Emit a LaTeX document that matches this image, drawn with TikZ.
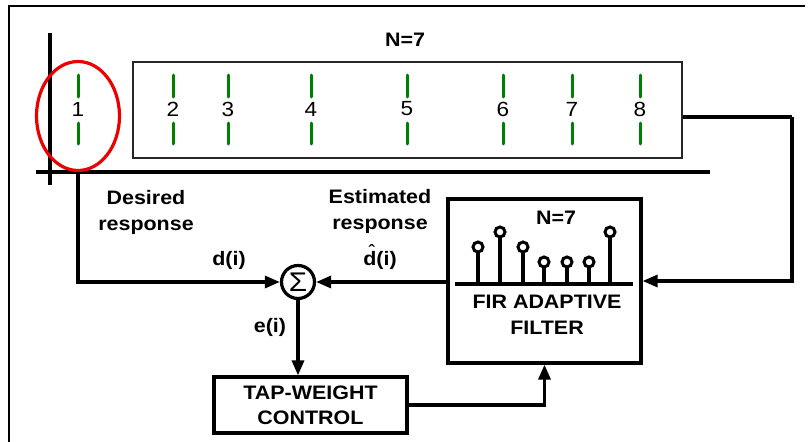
\documentclass[tikz,border=0pt]{standalone}
\usepackage{fontspec}
\setmainfont{Liberation Sans}[FakeStretch=1.1]
\usetikzlibrary{arrows.meta}
\definecolor{tickgreen}{RGB}{0,128,0}
\definecolor{ringred}{RGB}{235,0,0}
\begin{document}
\begin{tikzpicture}[x=1pt,y=-1pt,
  lbl/.style={font=\fontsize{19.5}{26}\selectfont\bfseries, inner sep=0pt, align=center},
  tickmark/.style={draw=tickgreen, line width=3pt, line cap=round},
  wire/.style={line width=3.2pt},
  arr/.style={wire, -{Triangle[length=15pt,width=12pt]}},
  blk/.style={draw, line width=3.2pt, inner sep=0pt}
]
\useasboundingbox (0,0) rectangle (809,442);
\fill[white] (0,0) rectangle (809,442);
% frame
\draw[line width=1.5pt] (9,442) -- (9,6) -- (805,6);
% window box
\node[draw=black!85, line width=1.2pt, minimum width=549pt, minimum height=96pt, inner sep=0pt] (win) at (407.5,110) {};
\node[lbl] (ntop) at (405,40) {N=7};
% taps
\foreach \x/\n in {78/1,173/2,228/3,311/4,407/5,503/6,572/7,640/8} {
  \draw[tickmark] (\x,75) -- (\x,97);
  \draw[tickmark] (\x,123) -- (\x,144);
  \node[font=\fontsize{20.5}{22}\selectfont, inner sep=0pt] (n\n) at (\x,109) {\n};
}
% axes
\draw[wire] (50,33) -- (50,185);
\draw[wire] (36,172) -- (710,172);
% red ellipse
\draw[ringred, line width=3.2pt] (78,116) ellipse [x radius=41.5, y radius=54.5];
% labels
\node[lbl] (des) at (146,212) {Desired\\response};
\node[lbl] (est) at (380,211) {Estimated\\response};
\node[lbl, anchor=base] (dl) at (229,265) {d(i)};
\node[lbl, anchor=base] (dh) at (380,265) {d(i)};
\node[font=\fontsize{16}{16}\selectfont\bfseries, inner sep=0pt] (hat) at ([xshift=-8.5pt]dh.north) {\char"02C6};
\node[lbl] (el) at (270,327) {e(i)};
% summing junction
\node[draw, circle, line width=3.2pt, minimum size=33pt, inner sep=0pt] (sum) at (298,282)
  {\fontsize{27}{27}\selectfont Σ};
% tap weight control
\node[blk, minimum width=193pt, minimum height=56pt, align=center,
  font=\fontsize{19.5}{25}\selectfont\bfseries] (tap) at (310.5,405) {TAP-WEIGHT\\CONTROL};
% FIR filter
\node[blk, minimum width=193pt, minimum height=164pt] (fir) at (544.5,281) {};
\node[lbl] (n7b) at (556,218) {N=7};
\node[lbl] (firtxt) at (547,315) {FIR ADAPTIVE\\FILTER};
\draw[wire] (455,284) -- (633,284);
\foreach \x/\y in {478/247,500/232,523/247,544/262,567/262,589/262,610/232} {
  \draw[wire] (\x,284) -- (\x,\y+5);
  \draw[line width=3pt, fill=white] (\x,\y) circle (5);
}
% connectors
\coordinate (dtap) at (78,172);
\coordinate (rc) at (792,117);
\draw[arr] (dtap) |- (sum.west);
\draw[arr] (fir.west |- sum.east) -- (sum.east);
\draw[arr] (sum.south) -- (sum.south |- tap.north);
\draw[arr] (tap.east) -| (fir.south);
\draw[wire] (win.east |- rc) -- (rc);
\draw[arr] (rc) |- (fir.east);
\end{tikzpicture}
\end{document}
